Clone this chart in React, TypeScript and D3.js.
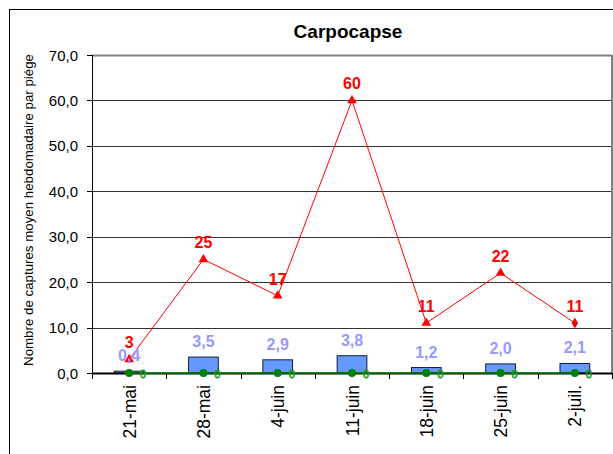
import React, { useEffect, useRef } from 'react';
import * as d3 from 'd3';

const categories = ["21-mai", "28-mai", "4-juin", "11-juin", "18-juin", "25-juin", "2-juil."];
const barValues = [0.4, 3.5, 2.9, 3.8, 1.2, 2.0, 2.1];
const redValues = [3, 25, 17, 60, 11, 22, 11];
const greenValues = [0, 0, 0, 0, 0, 0, 0];
const yTicks = [0, 10, 20, 30, 40, 50, 60, 70];

const W = 613;
const H = 454;
const FONT = "Arial, 'Liberation Sans', sans-serif";

const App: React.FC = () => {
  const svgRef = useRef<SVGSVGElement>(null);

  useEffect(() => {
    if (!svgRef.current) return;
    const svg = d3.select(svgRef.current);
    svg.selectAll("*").remove();

    const left = 92, right = 612, top = 55, bottom = 373;

    const x = d3.scaleBand<string>().domain(categories).range([left, right]).padding(0);
    const y = d3.scaleLinear().domain([0, 70]).range([bottom, top]);
    const cx = (c: string) => (x(c) as number) + x.bandwidth() / 2;
    const fmt = (v: number) => v.toFixed(1).replace(".", ",");

    // outer chart border
    svg.append("rect")
      .attr("x", 9.5).attr("y", 9.5)
      .attr("width", W + 20).attr("height", H + 20)
      .attr("fill", "white").attr("stroke", "#000");

    // title
    svg.append("text")
      .attr("x", 348).attr("y", 38)
      .attr("text-anchor", "middle")
      .style("font-family", FONT).style("font-size", "19px").style("font-weight", "bold")
      .text("Carpocapse");

    // gridlines
    svg.append("g").selectAll("line")
      .data(yTicks.filter(t => t > 0))
      .join("line")
      .attr("x1", left).attr("x2", right)
      .attr("y1", d => Math.round(y(d)) + 0.5).attr("y2", d => Math.round(y(d)) + 0.5)
      .attr("stroke", d => d === 70 ? "#808080" : "#333")
      .attr("stroke-width", d => d === 70 ? 2 : 1);

    // plot right border
    svg.append("line")
      .attr("x1", right).attr("x2", right).attr("y1", top).attr("y2", bottom)
      .attr("stroke", "#808080").attr("stroke-width", 2);

    // y axis
    const yAxis = svg.append("g");
    yAxis.append("line")
      .attr("x1", left + 0.5).attr("x2", left + 0.5).attr("y1", top).attr("y2", bottom)
      .attr("stroke", "#000");
    yAxis.selectAll("line.tick")
      .data(yTicks)
      .join("line")
      .attr("class", "tick")
      .attr("x1", left - 5).attr("x2", left)
      .attr("y1", d => Math.round(y(d)) + 0.5).attr("y2", d => Math.round(y(d)) + 0.5)
      .attr("stroke", "#000");
    yAxis.selectAll("text")
      .data(yTicks)
      .join("text")
      .attr("x", 78).attr("y", d => y(d) + 5.5)
      .attr("text-anchor", "end")
      .style("font-family", FONT).style("font-size", "15px")
      .text(d => fmt(d));

    // y title
    svg.append("text")
      .attr("transform", `translate(33,${(top + bottom) / 2 - 4}) rotate(-90)`)
      .attr("text-anchor", "middle")
      .style("font-family", FONT).style("font-size", "13.3px")
      .text("Nombre de captures moyen hebdomadaire par piége");

    // bars
    const bw = x.bandwidth() * 0.4;
    svg.append("g").selectAll("rect")
      .data(barValues)
      .join("rect")
      .attr("x", (d, i) => cx(categories[i]) - bw / 2)
      .attr("y", d => y(d))
      .attr("width", bw)
      .attr("height", d => bottom - y(d))
      .attr("fill", "#6699ff")
      .attr("stroke", "#1a1a33").attr("stroke-width", 1);

    // x axis
    svg.append("line")
      .attr("x1", left).attr("x2", right).attr("y1", bottom + 0.5).attr("y2", bottom + 0.5)
      .attr("stroke", "#000").attr("stroke-width", 2);
    svg.append("g").selectAll("line")
      .data(d3.range(categories.length + 1))
      .join("line")
      .attr("x1", i => Math.round(left + i * x.bandwidth()) + 0.5)
      .attr("x2", i => Math.round(left + i * x.bandwidth()) + 0.5)
      .attr("y1", bottom).attr("y2", bottom + 6)
      .attr("stroke", "#000");
    svg.append("g").selectAll("text")
      .data(categories)
      .join("text")
      .attr("transform", d => `translate(${cx(d) + 6.5},385) rotate(-90)`)
      .attr("text-anchor", "end")
      .style("font-family", FONT).style("font-size", "17.5px")
      .text(d => d);

    // green series
    const line = d3.line<number>()
      .x((d, i) => cx(categories[i]))
      .y(d => y(d));
    svg.append("path")
      .datum(greenValues)
      .attr("d", line)
      .attr("fill", "none").attr("stroke", "#008000").attr("stroke-width", 1.5);
    svg.append("g").selectAll("circle")
      .data(greenValues)
      .join("circle")
      .attr("cx", (d, i) => cx(categories[i]))
      .attr("cy", d => y(d))
      .attr("r", 4)
      .attr("fill", "#008000");
    svg.append("g").selectAll("text")
      .data(greenValues)
      .join("text")
      .attr("x", (d, i) => cx(categories[i]) + 14)
      .attr("y", d => y(d) + 5)
      .attr("text-anchor", "middle")
      .style("font-family", FONT).style("font-size", "11px")
      .attr("fill", "none").attr("stroke", "#1a9a1a").attr("stroke-width", 0.8)
      .text(d => String(d));

    // red series
    svg.append("path")
      .datum(redValues)
      .attr("d", line)
      .attr("fill", "none").attr("stroke", "#ff0000").attr("stroke-width", 1);
    const tri = d3.symbol().type(d3.symbolTriangle).size(40);
    const dia = d3.symbol().type(d3.symbolDiamond).size(36);
    svg.append("g").selectAll("path")
      .data(redValues)
      .join("path")
      .attr("transform", (d, i) => `translate(${cx(categories[i])},${y(d)})`)
      .attr("d", (d, i) => (i === redValues.length - 1 ? dia() : tri()) as string)
      .attr("fill", "#ff0000");

    // labels
    svg.append("g").selectAll("text")
      .data(barValues)
      .join("text")
      .attr("x", (d, i) => cx(categories[i]))
      .attr("y", d => y(d) - 10)
      .attr("text-anchor", "middle")
      .style("font-family", FONT).style("font-size", "16px").style("font-weight", "bold")
      .attr("fill", "#9999ff")
      .text(d => fmt(d));
    svg.append("g").selectAll("text")
      .data(redValues)
      .join("text")
      .attr("x", (d, i) => cx(categories[i]))
      .attr("y", d => y(d) - 11)
      .attr("text-anchor", "middle")
      .style("font-family", FONT).style("font-size", "16px").style("font-weight", "bold")
      .attr("fill", "#ff0000")
      .text(d => String(d));
  }, []);

  return (
    <svg
      ref={svgRef}
      width={W}
      height={H}
      style={{ position: "absolute", left: 0, top: 0, background: "white" }}
    />
  );
};

export default App;
